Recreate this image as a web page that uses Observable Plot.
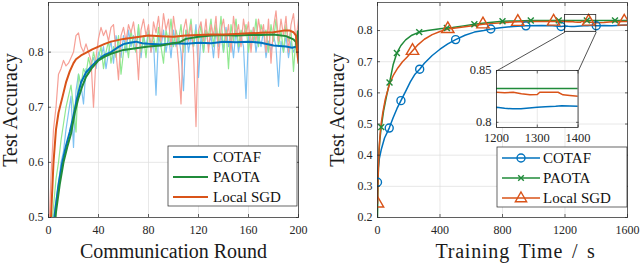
<!DOCTYPE html>
<html><head><meta charset="utf-8">
<script src="https://cdn.jsdelivr.net/npm/d3@7"></script>
<script src="https://cdn.jsdelivr.net/npm/@observablehq/plot@0.6"></script>
<style>
body{margin:0;background:#fff;}
#wrap{display:flex;width:640px;height:263px;position:relative;}
#wrap svg{font-family:"Liberation Serif",serif;overflow:visible;}
</style></head><body><div id="wrap"></div>
<script>
// ---------- shared ----------
const seriesNames = ["COTAF", "PAOTA", "Local SGD"];
const colors = ["#0072BD", "#208b3a", "#D95319"];
const lightColors = ["#7fc2f2", "#90e890", "#f6a097"];

// ---------- left panel: accuracy vs communication round ----------
const leftXTicks = [0, 40, 80, 120, 160, 200];
const leftYTicks = [0.5, 0.6, 0.7, 0.8];
const rawRounds = d3.range(0, 201, 2);
const rawCOTAF = [0.40,0.45,0.50,0.53,0.56,0.60,0.62,0.66,0.69,0.72,
0.627,0.73,0.76,0.74,0.706,0.77,0.76,0.78,0.79,0.77,
0.80,0.79,0.81,0.77,0.80,0.82,0.78,0.83,0.81,0.79,
0.83,0.80,0.84,0.81,0.83,0.80,0.845,0.79,0.83,0.81,
0.84,0.80,0.82,0.722,0.83,0.81,0.84,0.80,0.83,0.79,
0.84,0.81,0.83,0.80,0.73,0.84,0.80,0.83,0.81,0.85,
0.754,0.83,0.80,0.84,0.81,0.83,0.79,0.84,0.81,0.83,
0.80,0.845,0.81,0.83,0.79,0.84,0.80,0.83,0.81,0.716,
0.83,0.81,0.845,0.80,0.83,0.81,0.84,0.79,0.82,0.80,
0.83,0.81,0.738,0.82,0.80,0.83,0.79,0.82,0.80,0.81,0.80];
const rawPAOTA = [0.42,0.47,0.52,0.57,0.60,0.64,0.67,0.70,0.72,0.74,
0.70,0.655,0.76,0.74,0.77,0.76,0.79,0.77,0.80,0.78,
0.79,0.81,0.77,0.80,0.82,0.78,0.81,0.79,0.83,0.76,
0.80,0.82,0.79,0.84,0.81,0.80,0.85,0.80,0.83,0.79,
0.84,0.81,0.83,0.80,0.845,0.81,0.78,0.84,0.82,0.86,
0.81,0.84,0.82,0.85,0.80,0.84,0.83,0.86,0.81,0.84,
0.82,0.85,0.80,0.84,0.83,0.86,0.81,0.85,0.82,0.865,
0.80,0.84,0.77,0.85,0.82,0.86,0.81,0.84,0.83,0.85,
0.80,0.84,0.82,0.86,0.81,0.85,0.83,0.84,0.80,0.85,
0.82,0.86,0.81,0.84,0.80,0.85,0.82,0.84,0.765,0.83,0.81];
const rawLocal = [0.45,0.575,0.66,0.70,0.76,0.77,0.785,0.775,0.78,0.79,
0.80,0.83,0.835,0.81,0.80,0.815,0.80,0.785,0.70,0.79,
0.825,0.845,0.83,0.84,0.82,0.845,0.85,0.80,0.75,0.83,
0.845,0.82,0.85,0.835,0.855,0.82,0.75,0.84,0.86,0.83,
0.85,0.80,0.855,0.835,0.865,0.82,0.87,0.84,0.86,0.81,
0.865,0.83,0.78,0.706,0.84,0.86,0.82,0.85,0.80,0.665,
0.84,0.855,0.82,0.86,0.80,0.85,0.83,0.865,0.79,0.84,
0.86,0.82,0.85,0.80,0.865,0.83,0.85,0.81,0.86,0.83,
0.855,0.80,0.845,0.82,0.86,0.83,0.85,0.80,0.86,0.78,
0.845,0.875,0.82,0.86,0.83,0.865,0.80,0.85,0.87,0.82,0.86];

const smRoundsCOTAF = [0,3,5,8,11,14,17,20,23,26,30,35,40,45,50,55,60,65,70,75,80,90,100,110,120,130,140,150,160,170,180,190,195,198,200];
const smCOTAF = [0.36,0.44,0.505,0.56,0.60,0.63,0.655,0.685,0.718,0.745,0.763,0.776,0.787,0.795,0.80,0.808,0.8145,0.817,0.819,0.816,0.815,0.814,0.816,0.815,0.817,0.816,0.819,0.818,0.819,0.817,0.812,0.81,0.808,0.81,0.812];
const smRoundsPAOTA = [0,3,6,9,12,15,18,21,24,27,30,35,40,45,50,60,70,80,90,100,105,110,120,130,140,150,160,170,180,190,196,198,199,199.5,200];
const smPAOTA = [0.36,0.43,0.51,0.56,0.60,0.628,0.652,0.69,0.717,0.738,0.755,0.772,0.785,0.792,0.797,0.804,0.807,0.81,0.812,0.816,0.818,0.824,0.828,0.83,0.831,0.83,0.831,0.831,0.832,0.829,0.823,0.818,0.80,0.838,0.835];
const smRoundsLocal = [0,2,4,6,8,11,14,17,20,22,26,31,35,40,45,50,60,70,80,90,100,110,120,130,140,150,160,170,180,188,193,196,198,199,200];
const smLocal = [0.44,0.50,0.60,0.66,0.69,0.717,0.745,0.765,0.78,0.787,0.794,0.80,0.805,0.81,0.815,0.819,0.824,0.827,0.83,0.829,0.828,0.83,0.831,0.832,0.832,0.833,0.834,0.835,0.836,0.839,0.839,0.836,0.83,0.80,0.78];

// ---------- right panel: accuracy vs training time ----------
const rightXTicks = [0, 400, 800, 1200, 1600];
const rightYTicks = [0.2, 0.3, 0.4, 0.5, 0.6, 0.7, 0.8];
const tCOTAF = [0,5,12,25,45,75,100,125,150,180,210,240,270,300,350,400,450,500,560,620,680,725,800,870,950,1050,1120,1175,1200,1220,1240,1260,1280,1300,1320,1345,1360,1380,1400,1450,1500,1560,1600];
const vCOTAF = [0.313,0.36,0.39,0.42,0.455,0.487,0.52,0.55,0.575,0.605,0.635,0.66,0.676,0.695,0.72,0.74,0.757,0.771,0.785,0.795,0.80,0.805,0.81,0.813,0.815,0.816,0.815,0.813,0.8145,0.8136,0.813,0.813,0.8138,0.8145,0.815,0.8155,0.816,0.8158,0.8155,0.816,0.815,0.817,0.818];
const mkCOTAF = [0,75,150,270,500,725,950,1175,1400];
const tPAOTA = [0,3,8,15,24,40,60,77,100,124,150,180,220,267,320,400,444,480,550,620,700,800,900,981,1100,1160,1200,1220,1300,1340,1400,1520,1600];
const vPAOTA = [0.20,0.30,0.40,0.45,0.49,0.545,0.595,0.633,0.69,0.728,0.752,0.77,0.785,0.795,0.80,0.806,0.808,0.81,0.815,0.82,0.825,0.83,0.831,0.832,0.8325,0.8326,0.8326,0.8326,0.8326,0.8326,0.8326,0.8326,0.8326];
const mkPAOTA = [24,77,124,267,444,620,800,981,1160,1340,1520];
const tLocal = [0,4,10,20,35,50,75,100,130,160,190,224,260,300,350,400,450,500,560,620,675,750,820,898,1000,1127,1200,1220,1241,1261,1282,1300,1306,1322,1351,1363,1380,1400,1450,1500,1579,1600];
const vLocal = [0.245,0.33,0.42,0.49,0.54,0.58,0.625,0.655,0.68,0.70,0.715,0.735,0.755,0.772,0.787,0.797,0.805,0.808,0.812,0.816,0.82,0.823,0.826,0.828,0.829,0.829,0.829,0.8285,0.829,0.8275,0.8265,0.8268,0.829,0.829,0.829,0.8265,0.826,0.8252,0.826,0.828,0.829,0.829];
const mkLocal = [0,224,450,675,898,1127,1351,1579];
const markerSymbols = ["circle", "times", "triangle"];

// zoom window and where the inset sits (in main-panel data units)
const zoomX = [1200, 1400];
const zoomY = [0.795, 0.85];
const insetXTicks = [1200, 1300, 1400];
const insetYTicks = [0.8, 0.85];
const insetPlaceX = [764, 1286];
const insetPlaceY = [0.488, 0.671];

// ---------- helpers ----------
const FONT = '"Liberation Serif", serif';
const INK = "#262626";
function rows(xs, ys, s) { return xs.map((x, i) => ({x, y: ys[i], s})); }

function panel({width, marginLeft, marginRight, xDomain, yDomain, xTicks, yTicks, xLabel, yLabelOffset, xLabelOffset, marks}) {
  return Plot.plot({
    width, height: 263, marginLeft, marginRight, marginTop: 2, marginBottom: 46,
    style: {fontFamily: FONT, fontSize: "12px", color: INK, background: "transparent", overflow: "visible"},
    x: {domain: xDomain},
    y: {domain: yDomain},
    marks: [
      Plot.gridX(xTicks, {stroke: "#dedede", strokeOpacity: 1, strokeWidth: 0.7}),
      Plot.gridY(yTicks, {stroke: "#dedede", strokeOpacity: 1, strokeWidth: 0.7}),
      ...marks,
      Plot.frame({stroke: INK, strokeWidth: 0.7}),
      Plot.axisX(xTicks, {anchor: "bottom", tickSize: -3, tickPadding: 11, strokeWidth: 0.7, tickFormat: String, label: xLabel, labelAnchor: "center", labelOffset: xLabelOffset, labelArrow: "none"}),
      Plot.axisX(xTicks, {anchor: "top", tickSize: -3, strokeWidth: 0.7, tickFormat: () => "", label: null}),
      Plot.axisY(yTicks, {anchor: "left", tickSize: -3, tickPadding: 8, strokeWidth: 0.7, tickFormat: String, label: "Test Accuracy", labelAnchor: "center", labelOffset: yLabelOffset, labelArrow: "none"}),
      Plot.axisY(yTicks, {anchor: "right", tickSize: -3, strokeWidth: 0.7, tickFormat: () => "", label: null})
    ]
  });
}

function styleLabels(svg) {
  d3.select(svg).selectAll('[aria-label="x-axis label"] text, [aria-label="y-axis label"] text')
    .style("font-size", "20px").attr("fill", "#1a1a1a");
}

function legend(svg, box, withMarkers, lineW) {
  const g = d3.select(svg).append("g").attr("font-family", FONT).attr("text-anchor", "start");
  g.append("rect").attr("x", box.x).attr("y", box.y).attr("width", box.w).attr("height", box.h)
    .attr("fill", "white").attr("stroke", INK).attr("stroke-width", 0.7);
  seriesNames.forEach((name, i) => {
    const y = box.y + 11 + i * 20;
    g.append("line").attr("x1", box.x + 5).attr("x2", box.x + box.line).attr("y1", y).attr("y2", y)
      .attr("stroke", colors[i]).attr("stroke-width", lineW);
    if (withMarkers) {
      const sym = [d3.symbolCircle, d3.symbolTimes, d3.symbolTriangle][i];
      const size = [50, 22, 55][i];
      g.append("path").attr("d", d3.symbol(sym, size)()).attr("transform", `translate(${box.x + 5 + (box.line - 5) / 2},${y + (i === 2 ? 0.5 : 0)})`)
        .attr("fill", "none").attr("stroke", colors[i]).attr("stroke-width", 1.4);
    }
    g.append("text").attr("x", box.x + box.text).attr("y", y).attr("dy", "0.34em")
      .attr("font-size", 15).attr("fill", "#111").attr("text-anchor", "start").text(name);
  });
}

// ---------- left ----------
const leftRaw = [rows(rawRounds, rawCOTAF, 0), rows(rawRounds, rawPAOTA, 1), rows(rawRounds, rawLocal, 2)];
const leftSm = [rows(smRoundsCOTAF, smCOTAF, 0), rows(smRoundsPAOTA, smPAOTA, 1), rows(smRoundsLocal, smLocal, 2)];
const left = panel({
  width: 320, marginLeft: 48, marginRight: 22,
  xDomain: [0, 200], yDomain: [0.5, 0.89],
  xTicks: leftXTicks, yTicks: leftYTicks,
  xLabel: "Communication Round", yLabelOffset: 46, xLabelOffset: 40,
  marks: [
    ...leftRaw.map((d, i) => Plot.line(d, {x: "x", y: "y", stroke: lightColors[i], strokeWidth: 1.2, clip: true})),
    ...leftSm.map((d, i) => Plot.line(d, {x: "x", y: "y", stroke: colors[i], strokeWidth: 2, clip: true}))
  ]
});
styleLabels(left);
legend(left, {x: 168, y: 146, w: 129, h: 60, line: 40, text: 45}, false, 2);

// ---------- right ----------
const rightLines = [rows(tCOTAF, vCOTAF, 0), rows(tPAOTA, vPAOTA, 1), rows(tLocal, vLocal, 2)];
const rightMk = [mkCOTAF, mkPAOTA, mkLocal].map((m, i) => rightLines[i].filter(d => m.includes(d.x)));
const right = panel({
  width: 320, marginLeft: 57, marginRight: 13,
  xDomain: [0, 1600], yDomain: [0.2, 0.89],
  xTicks: rightXTicks, yTicks: rightYTicks,
  xLabel: "Training Time / s", yLabelOffset: 48, xLabelOffset: 40,
  marks: [
    ...rightLines.map((d, i) => Plot.line(d, {x: "x", y: "y", stroke: colors[i], strokeWidth: 1.5, clip: true})),
    ...rightMk.map((d, i) => Plot.dot(d, {x: "x", y: "y", symbol: () => markerSymbols[i], r: [4, 2.8, 4.6][i], stroke: colors[i], strokeWidth: 1.4, fill: "none", clip: true})),
    Plot.rect([{x1: zoomX[0], x2: zoomX[1], y1: zoomY[0], y2: zoomY[1]}], {x1: "x1", x2: "x2", y1: "y1", y2: "y2", fill: "none", stroke: INK, strokeWidth: 0.8}),
    Plot.link([
      {x1: zoomX[0], y1: zoomY[0], x2: insetPlaceX[0], y2: insetPlaceY[1]},
      {x1: zoomX[1], y1: zoomY[0], x2: insetPlaceX[1], y2: insetPlaceY[1]}
    ], {x1: "x1", y1: "y1", x2: "x2", y2: "y2", stroke: INK, strokeWidth: 0.8})
  ]
});
styleLabels(right);
d3.select(right).selectAll('[aria-label="x-axis label"] text')
  .style("word-spacing", "3px").style("letter-spacing", "0.8px").attr("dx", 13);
legend(right, {x: 177, y: 147, w: 130, h: 60, line: 43, text: 46}, true, 1.5);

// ---------- inset ----------
const sx = right.scale("x"), sy = right.scale("y");
const px1 = sx.apply(insetPlaceX[0]), px2 = sx.apply(insetPlaceX[1]);
const pyTop = sy.apply(insetPlaceY[1]), pyBot = sy.apply(insetPlaceY[0]);
const iml = 40, imr = 6, imt = 2, imb = 24;
const inset = Plot.plot({
  width: (px2 - px1) + iml + imr, height: (pyBot - pyTop) + imt + imb,
  marginLeft: iml, marginRight: imr, marginTop: imt, marginBottom: imb,
  style: {fontFamily: FONT, fontSize: "12.5px", color: INK, background: "transparent", overflow: "visible"},
  x: {domain: zoomX}, y: {domain: zoomY},
  marks: [
    Plot.frame({fill: "white"}),
    Plot.gridX(insetXTicks, {stroke: "#dedede", strokeOpacity: 1, strokeWidth: 0.7}),
    Plot.gridY(insetYTicks, {stroke: "#dedede", strokeOpacity: 1, strokeWidth: 0.7}),
    ...rightLines.map((d, i) => Plot.line(d, {x: "x", y: "y", stroke: colors[i], strokeWidth: 1.5, clip: true})),
    Plot.frame({stroke: INK, strokeWidth: 0.8}),
    Plot.axisX(insetXTicks, {anchor: "bottom", tickSize: -2.5, tickPadding: 8.5, strokeWidth: 0.7, tickFormat: String, label: null}),
    Plot.axisX(insetXTicks, {anchor: "top", tickSize: -2.5, strokeWidth: 0.7, tickFormat: () => "", label: null}),
    Plot.axisY(insetYTicks, {anchor: "left", tickSize: -2.5, tickPadding: 7.5, strokeWidth: 0.7, tickFormat: String, label: null}),
    Plot.axisY(insetYTicks, {anchor: "right", tickSize: -2.5, strokeWidth: 0.7, tickFormat: () => "", label: null})
  ]
});
inset.style.position = "absolute";
inset.style.left = (320 + px1 - iml) + "px";
inset.style.top = (pyTop - imt) + "px";
inset.style.maxWidth = "none";

const wrap = document.getElementById("wrap");
wrap.append(left, right, inset);
</script></body></html>
